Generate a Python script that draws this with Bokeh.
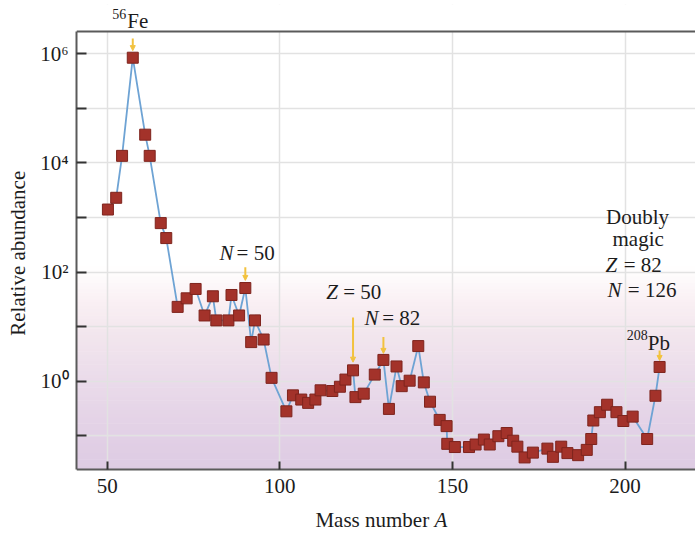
import numpy as np
from bokeh.plotting import figure
from bokeh.models import (Range1d, FixedTicker, CustomJSTickFormatter, Label, Arrow,
                          NormalHead, Span, ColumnDataSource)
from bokeh.embed import file_html
from bokeh.resources import INLINE

# ---------------- data ----------------
mass_number = [50.2, 52.6, 54.3, 57.4, 61.0, 62.3, 65.5, 67.1, 70.4, 73.0,
               75.6, 78.2, 80.6, 81.6, 85.1, 86.0, 88.2, 90.0, 91.7, 92.8,
               95.3, 97.6, 101.9, 103.8, 106.2, 108.2, 110.3, 111.8, 115.2, 117.4,
               119.0, 121.2, 121.9, 124.3, 127.5, 130.0, 131.6, 133.8, 135.3, 137.6,
               140.1, 141.7, 143.5, 146.3, 148.3, 148.5, 150.7, 154.8, 156.7, 159.1,
               160.8, 163.3, 165.7, 167.6, 168.8, 170.9, 173.3, 177.5, 179.1, 181.5,
               183.3, 186.4, 188.9, 190.2, 190.8, 192.7, 194.8, 197.5, 199.5, 202.2,
               206.4, 208.8, 210.0]
abundance = [1400, 2300, 13500, 850000, 33000, 13500, 790, 420, 23, 33,
             49, 16, 36, 13, 13, 38, 16, 51, 5.2, 13,
             5.8, 1.15, 0.28, 0.55, 0.46, 0.40, 0.46, 0.68, 0.66, 0.79,
             1.07, 1.58, 0.51, 0.59, 1.32, 2.45, 0.31, 1.86, 0.81, 1.02,
             4.4, 0.95, 0.42, 0.195, 0.15, 0.071, 0.062, 0.062, 0.069, 0.085,
             0.069, 0.098, 0.112, 0.081, 0.063, 0.040, 0.049, 0.058, 0.041, 0.063,
             0.048, 0.044, 0.055, 0.087, 0.19, 0.27, 0.37, 0.27, 0.186, 0.224,
             0.087, 0.54, 1.82]
x_tick_values = [50, 100, 150, 200]
y_tick_values = [0.1, 1, 10, 100, 1e3, 1e4, 1e5, 1e6]
# indices of highlighted (magic / labelled) points
idx_fe, idx_n50, idx_z50, idx_n82, idx_pb = 3, 17, 31, 35, 72

FONT = "Liberation Serif"
TEXT = "#1c1c1c"
AXIS_COL = "#5a5a5a"
X0, X1 = 41.1, 220.4
PX_PER_DEC = 54.55
LOG0, LOG_BOX = -1.62, 6.41                     # visible box limits
LOG_TOP = LOG_BOX + 27 / PX_PER_DEC             # frame reaches above the box (Fe label)
LOG_BOTTOM = LOG_TOP - 529 / PX_PER_DEC         # ... and below it (axis title)

p = figure(width=695, height=533, x_range=Range1d(X0, X1),
           y_range=Range1d(10 ** LOG_BOTTOM, 10 ** LOG_TOP), y_axis_type="log",
           output_backend="svg", toolbar_location=None,
           min_border_left=76, min_border_right=0, min_border_top=4,
           min_border_bottom=0)
p.outline_line_color = None
p.background_fill_color = "white"
p.border_fill_color = "white"

# ---------------- soft white-to-lilac background ----------------
stops_log = [-1.62, -1.1, 0.0, 0.93, 1.5, 2.1]
stops_rgb = [(221, 203, 227), (225, 207, 229), (234, 219, 234),
             (243, 231, 238), (250, 241, 244), (255, 255, 255)]
edges = np.linspace(LOG0, 2.1, 63)
colors = []
for i in range(len(edges) - 1):
    mid = 0.5 * (edges[i] + edges[i + 1])
    rgb = [int(round(np.interp(mid, stops_log, [c[k] for c in stops_rgb]))) for k in range(3)]
    colors.append("#%02x%02x%02x" % tuple(rgb))
p.quad(left=X0, right=X1, bottom=10 ** edges[:-1], top=10 ** (edges[1:] + 0.01),
       fill_color=colors, line_color=None, level="image")

# ---------------- grid ----------------
p.xgrid.ticker = FixedTicker(ticks=x_tick_values)
p.ygrid.ticker = FixedTicker(ticks=y_tick_values)
for g in (p.xgrid, p.ygrid):
    g.grid_line_color = "#e2e2e2"
    g.grid_line_width = 1.5

# white strips above and below the box hide the grid there
p.quad(left=X0, right=X1, bottom=10 ** LOG_BOX, top=10 ** LOG_TOP,
       fill_color="white", line_color=None)
p.quad(left=X0, right=X1, bottom=10 ** LOG_BOTTOM, top=10 ** LOG0,
       fill_color="white", line_color=None)

# ---------------- axes ----------------
for ax in (p.xaxis, p.yaxis):
    ax.major_tick_out = 0
    ax.major_tick_line_color = "#333333"
    ax.major_tick_line_width = 2
    ax.minor_tick_line_color = None
    ax.axis_line_color = AXIS_COL
    ax.axis_line_width = 2
    ax.major_label_text_font = FONT
    ax.major_label_text_font_size = "21px"
    ax.major_label_text_color = TEXT

p.xaxis.fixed_location = 10 ** LOG0
p.xaxis.ticker = FixedTicker(ticks=x_tick_values)
p.xaxis.major_tick_in = 8
p.xaxis.major_label_standoff = 9

p.yaxis.bounds = (10 ** LOG0, 10 ** LOG_BOX)
p.yaxis.ticker = FixedTicker(ticks=y_tick_values, minor_ticks=[])
p.yaxis.major_tick_in = 10
p.yaxis.major_label_standoff = 8
p.yaxis.formatter = CustomJSTickFormatter(code="""
const e = Math.round(Math.log10(tick));
if (e % 2 !== 0) return "";
const sup = {"0":"\u2070","1":"\u00b9","2":"\u00b2","3":"\u00b3","4":"\u2074",
             "5":"\u2075","6":"\u2076","7":"\u2077","8":"\u2078","9":"\u2079","-":"\u207b"};
return "10" + String(e).split("").map(c => sup[c]).join("");
""")
# leading no-break spaces keep the title centred on the visible box, not the frame
p.yaxis.axis_label = "\u00a0" * 6 + "Relative abundance"
p.yaxis.axis_label_text_font = FONT
p.yaxis.axis_label_text_font_size = "21px"
p.yaxis.axis_label_text_font_style = "normal"
p.yaxis.axis_label_text_color = TEXT
p.yaxis.axis_label_standoff = 7

# top border of the box
p.add_layout(Span(location=10 ** LOG_BOX, dimension="width",
                  line_color=AXIS_COL, line_width=2))

# ---------------- data line + markers ----------------
src = ColumnDataSource(dict(A=mass_number, y=abundance))
p.line("A", "y", source=src, line_color="#6ea3d4", line_width=1.8)
p.scatter("A", "y", source=src, marker="square", size=11,
          fill_color="#a3322a", line_color="#7e241d", line_width=1)

# ---------------- arrows to magic points ----------------
GOLD = "#f2c23e"
for idx, start_dec, end_dec in [(idx_fe, 0.35, 0.13), (idx_n50, 0.38, 0.14),
                                (idx_z50, 0.97, 0.15), (idx_n82, 0.42, 0.12),
                                (idx_pb, 0.30, 0.12)]:
    xa = mass_number[idx]
    ya = abundance[idx]
    p.add_layout(Arrow(x_start=xa, y_start=ya * 10 ** start_dec, x_end=xa,
                       y_end=ya * 10 ** end_dec, line_color=GOLD, line_width=2,
                       end=NormalHead(size=5, fill_color=GOLD, line_color=GOLD)))

# ---------------- text annotations ----------------
def add_text(text, x, logy, size="21px", style="normal", align="left", xoff=0):
    p.add_layout(Label(x=x, y=10 ** logy, text=text, text_font=FONT,
                       text_font_size=size, text_font_style=style,
                       text_align=align, text_baseline="alphabetic",
                       text_color=TEXT, x_offset=xoff, y_offset=7))

add_text("56", 55.8, 6.607, size="14px", align="right", xoff=-1)
add_text("Fe", 55.8, 6.466)
add_text("208", 206.6, 0.715, size="14px", align="right")
add_text("Pb", 206.6, 0.563)

add_text("N", 82.53, 2.213, style="italic")
add_text("= 50", 87.46, 2.213)
add_text("Z", 113.44, 1.498, style="italic")
add_text("= 50", 118.37, 1.498)
add_text("N", 124.54, 1.034, style="italic")
add_text("= 82", 129.66, 1.034)

add_text("Doubly", 203.6, 2.885, align="center")
add_text("magic", 203.8, 2.469, align="center")
add_text("Z", 194.35, 1.998, style="italic")
add_text("= 82", 199.6, 1.998)
add_text("N", 194.9, 1.540, style="italic")
add_text("= 126", 200.8, 1.540)

# x-axis title
add_text("Mass number", 110.3, -2.682)
add_text("A", 144.8, -2.682, style="italic")

open("out.html", "w").write(file_html(p, INLINE))
